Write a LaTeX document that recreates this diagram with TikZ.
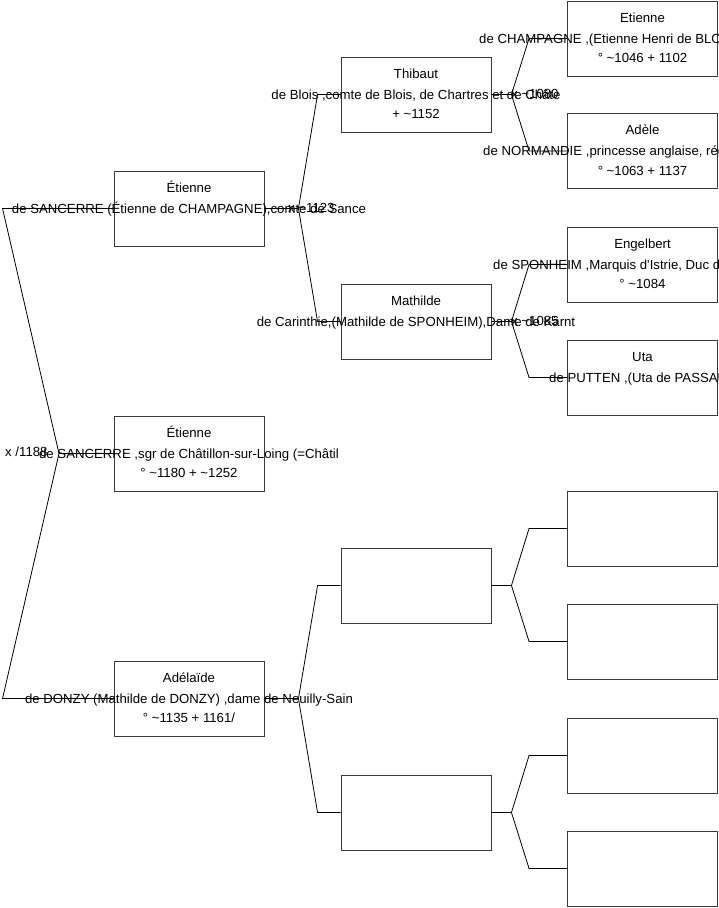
\documentclass[tikz,border=0pt]{standalone}
\usepackage{fontspec}
\setmainfont{Liberation Sans}
\definecolor{boxc}{HTML}{3A3A3A}
\tikzset{
  box/.style={draw=boxc, line width=0.9pt, minimum width=150pt, minimum height=75pt, inner sep=0pt},
  txt/.style={font=\fontsize{13.2pt}{15pt}\selectfont, inner sep=0pt, text height=9.4pt, text depth=0pt},
  link/.style={draw=black, line width=0.8pt},
}
\newcommand\famb[6]{%
  \node[box] (#1) at (#2,#3) {};
  \node[txt] (#1-a) at ([yshift=21pt]#1.center) {#4};
  \node[txt] (#1-b) at (#1.center) {#5};
  \node[txt] (#1-c) at ([yshift=-19.5pt]#1.center) {#6};
}
\newcommand\forkto[6]{%
  \draw[link] (#1.east) -- ++(#5,0) coordinate (#4) -- ([xshift=-#6pt]#2.west) -- (#2.west);
  \draw[link] (#4) -- ([xshift=-#6pt]#3.west) -- (#3.west);
}
\begin{document}
\begin{tikzpicture}[x=1pt,y=-1pt]
\useasboundingbox (0,0) rectangle (719,908);
% generation 0-1
\famb{root}{189}{453.5}{Étienne}{de SANCERRE ,sgr de Châtillon-sur-Loing (=Châtil}{° \textasciitilde1180 + \textasciitilde1252}
\famb{fa}{189}{208.5}{Étienne}{de SANCERRE (Étienne de CHAMPAGNE),comte de Sance}{}
\famb{mo}{189}{698.5}{Adélaïde}{de DONZY (Mathilde de DONZY) ,dame de Neuilly-Sain}{° \textasciitilde1135 + 1161/}
% generation 2
\famb{thib}{416}{94.5}{Thibaut}{de Blois ,comte de Blois, de Chartres et de Châte}{+ \textasciitilde1152}
\famb{math}{416}{321.5}{Mathilde}{de Carinthie,(Mathilde de SPONHEIM),Dame de Kärnt}{}
\famb{ea}{416}{585.5}{}{}{}
\famb{eb}{416}{812.5}{}{}{}
% generation 3
\famb{etn}{642.5}{38.5}{Etienne}{}{° \textasciitilde1046 + 1102}
\famb{ade}{642.5}{151}{Adèle}{}{° \textasciitilde1063 + 1137}
\famb{eng}{642.5}{264.5}{Engelbert}{}{° \textasciitilde1084}
\famb{uta}{642.5}{377.5}{Uta}{}{}
\famb{ra}{642.5}{528.5}{}{}{}
\famb{rb}{642.5}{641.5}{}{}{}
\famb{rc}{642.5}{755.5}{}{}{}
\famb{rd}{642.5}{868.5}{}{}{}
\node[txt,anchor=west] (etn-w) at (479,38.5) {de CHAMPAGNE ,(Etienne Henri de BLOIS};
\node[txt,anchor=west] (ade-w) at (483,151) {de NORMANDIE ,princesse anglaise, rég};
\node[txt,anchor=west] (eng-w) at (493,264.5) {de SPONHEIM ,Marquis d\textquotesingle Istrie, Duc de};
\node[txt,anchor=west] (uta-w) at (549,377.5) {de PUTTEN ,(Uta de PASSAU};
% connectors
\coordinate (v0) at (59,453.5);
\draw[link] (root.west) -- (v0) -- ([xshift=-111pt]fa.west) -- (fa.west);
\draw[link] (v0) -- ([xshift=-111pt]mo.west) -- (mo.west);
\forkto{fa}{thib}{math}{v1}{34}{23}
\forkto{mo}{ea}{eb}{v2}{34}{23}
\forkto{thib}{etn}{ade}{v3}{20}{38}
\forkto{math}{eng}{uta}{v4}{20}{38}
\forkto{ea}{ra}{rb}{v5}{20}{38}
\forkto{eb}{rc}{rd}{v6}{20}{38}
% marriage labels
\node[txt,anchor=west] (m0) at (5,452) {x /1188};
\node[txt,anchor=west] (m1) at (288,207.5) {x \textasciitilde1123};
\node[txt,anchor=west] (m3) at (511,93.5) {x \textasciitilde1080};
\node[txt,anchor=west] (m4) at (511,320.5) {x \textasciitilde1085};
\end{tikzpicture}
\end{document}
